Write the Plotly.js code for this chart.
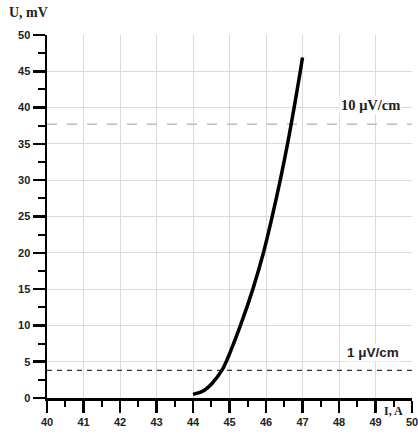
<!DOCTYPE html>
<html>
<head>
<meta charset="utf-8">
<script src="https://cdn.plot.ly/plotly-3.0.1.min.js"></script>
<style>html,body{margin:0;padding:0;background:#fff;}#chart{width:418px;height:434px;}</style>
</head>
<body>
<div id="chart"></div>
<script>
// Data
const currentA = [44.0, 44.29, 44.52, 44.79, 44.91, 45.3, 45.64, 45.93, 46.17, 46.39, 46.59, 46.77, 46.94, 47.0];
const voltageMV = [0.5, 1, 2, 3.8, 5, 10, 15, 20, 25, 30, 35, 40, 45, 46.9];
const criterionLevels = [3.8, 37.7];
const criterionLabels = ["1 μV/cm", "10 μV/cm"];
const xRange = [40, 50];
const yRange = [0, 50];
const xTicks = [40, 41, 42, 43, 44, 45, 46, 47, 48, 49, 50];
const yTicks = [0, 5, 10, 15, 20, 25, 30, 35, 40, 45, 50];

const traces = [
  {
    x: xRange, y: [criterionLevels[1], criterionLevels[1]],
    mode: 'lines', line: {color: '#bdbdbd', width: 1.6, dash: '10px,10px'},
    hoverinfo: 'skip', showlegend: false
  },
  {
    x: xRange, y: [criterionLevels[0], criterionLevels[0]],
    mode: 'lines', line: {color: '#333', width: 1.1, dash: '5px,5px'},
    hoverinfo: 'skip', showlegend: false
  },
  {
    x: currentA, y: voltageMV,
    mode: 'lines', line: {color: '#000', width: 3.5, shape: 'spline', smoothing: 1},
    showlegend: false
  }
];

const tickFont = {family: 'Liberation Sans, Arial, sans-serif', size: 11, color: '#222', weight: 'bold'};

const layout = {
  width: 418, height: 434,
  margin: {l: 47, r: 6, t: 35, b: 36},
  paper_bgcolor: '#fff', plot_bgcolor: '#fff',
  showlegend: false,
  xaxis: {
    range: xRange, tickvals: xTicks, ticktext: xTicks.map(String),
    showgrid: true, gridcolor: '#dadada', gridwidth: 1,
    zeroline: false, showline: true, linecolor: '#000', linewidth: 2.5,
    ticks: 'outside', ticklen: 12, tickwidth: 2.5, tickcolor: '#000',
    minor: {dtick: 0.5, ticks: 'outside', ticklen: 6, tickwidth: 2, tickcolor: '#000', showgrid: false},
    tickfont: tickFont, ticklabeloverflow: 'allow', fixedrange: true
  },
  yaxis: {
    range: yRange, tickvals: yTicks, ticktext: yTicks.map(String),
    showgrid: true, gridcolor: '#dadada', gridwidth: 1,
    zeroline: false, showline: true, linecolor: '#000', linewidth: 2.5,
    ticks: 'outside', ticklen: 12, tickwidth: 2.5, tickcolor: '#000',
    minor: {dtick: 2.5, ticks: 'outside', ticklen: 7, tickwidth: 2, tickcolor: '#000', showgrid: false},
    tickfont: tickFont, ticklabeloverflow: 'allow', fixedrange: true
  },
  annotations: [
    {
      text: 'U, mV', xref: 'paper', yref: 'paper', x: -0.11, y: 1.063,
      xanchor: 'left', yanchor: 'middle', showarrow: false,
      font: {family: 'Liberation Serif, Times New Roman, serif', size: 14, color: '#222', weight: 'bold'}
    },
    {
      text: 'I, A', xref: 'paper', yref: 'paper', x: 0.95, y: -0.035,
      xanchor: 'center', yanchor: 'middle', showarrow: false,
      font: {family: 'Liberation Serif, Times New Roman, serif', size: 12, color: '#222', weight: 'bold'}
    },
    {
      text: criterionLabels[1], xref: 'x', yref: 'y', x: 48.87, y: 40.4,
      xanchor: 'center', yanchor: 'middle', showarrow: false, bgcolor: '#fff',
      font: {family: 'Liberation Serif, Times New Roman, serif', size: 14.5, color: '#222', weight: 'bold'}
    },
    {
      text: criterionLabels[0], xref: 'x', yref: 'y', x: 48.92, y: 6.24,
      xanchor: 'center', yanchor: 'middle', showarrow: false, bgcolor: '#fff',
      font: {family: 'Liberation Sans, Arial, sans-serif', size: 13.5, color: '#222', weight: 'bold'}
    }
  ]
};

Plotly.newPlot('chart', traces, layout, {staticPlot: true, displayModeBar: false});
</script>
</body>
</html>
